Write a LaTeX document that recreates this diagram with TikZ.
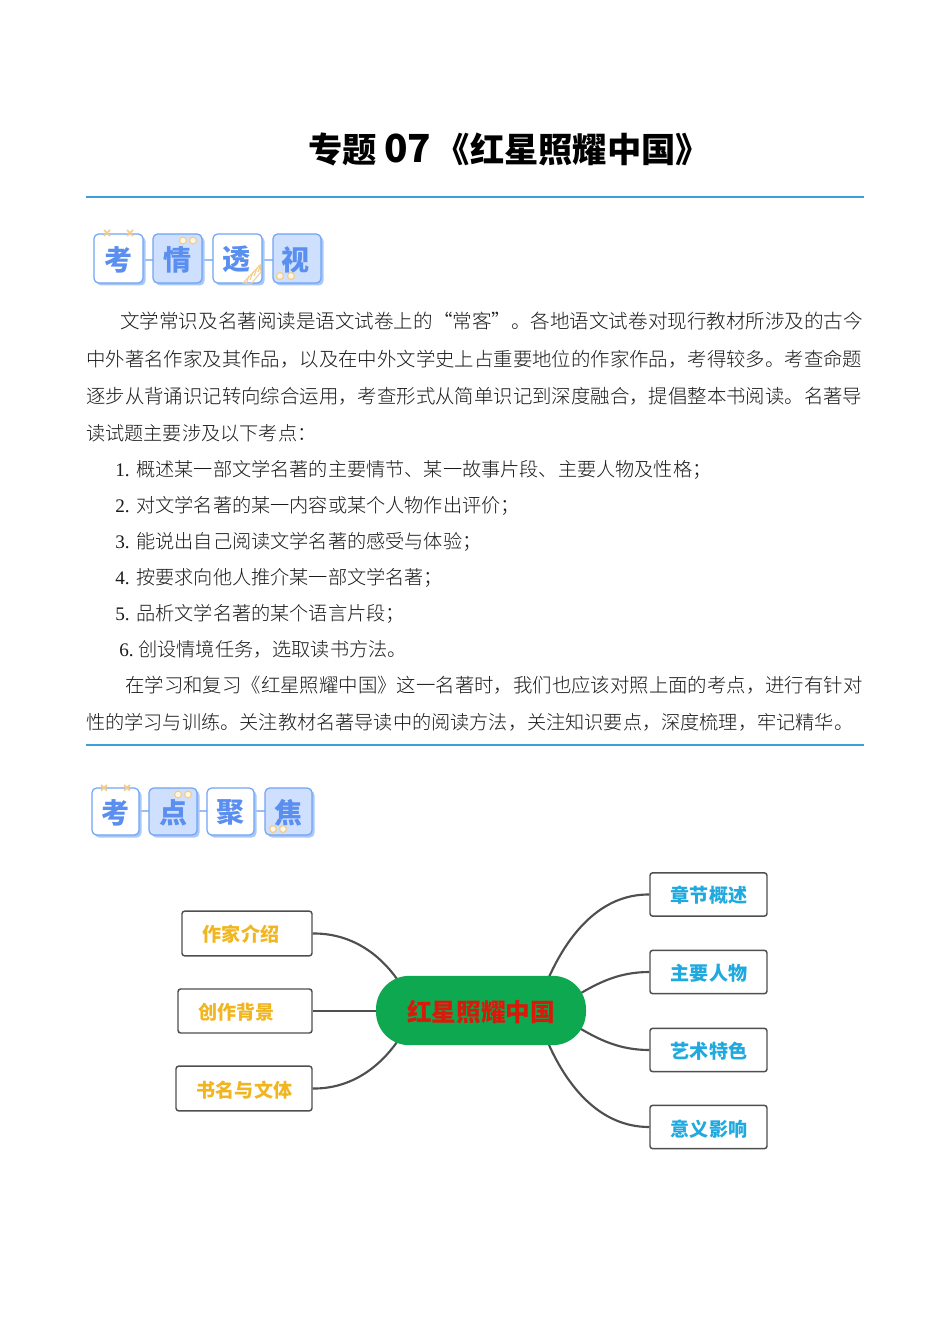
\documentclass[tikz,border=0pt]{standalone}
\usepackage{fontspec}
\setmainfont{Liberation Serif}
\newfontfamily\cjk{Noto Sans CJK SC}
\newfontfamily\cjklight{Noto Sans CJK SC Light}
\usetikzlibrary{calc}
\definecolor{rulec}{HTML}{3E9FD6}
\definecolor{tile}{HTML}{6FA3F5}
\definecolor{tilefill}{HTML}{CFE0FF}
\definecolor{tileshadow}{HTML}{A9C8FA}
\definecolor{tiletext}{HTML}{5B8FEF}
\definecolor{deco}{HTML}{F3CC8C}
\definecolor{dotfill}{HTML}{FFF6E4}
\definecolor{edge}{HTML}{4F4F4F}
\definecolor{warm}{HTML}{F1B51F}
\definecolor{cool}{HTML}{1FA9DF}
\definecolor{pillc}{HTML}{0DA84F}
\definecolor{pillt}{HTML}{D91A0B}
\definecolor{bodyc}{HTML}{1A1A1A}
\tikzset{
  x=0.75pt,y=-0.75pt,
  bodyline/.style={anchor=base west,inner sep=0pt,text=bodyc,font=\fontsize{14.55}{16}\selectfont\cjklight},
  bodyshort/.style={bodyline,font=\fontsize{14.38}{16}\selectfont\cjklight},
  rulel/.style={draw=rulec,line width=1.9pt},
  tileA/.style={draw=tile,line width=0.9pt,rounded corners=3.5pt,fill=white},
  tileB/.style={draw=tile,line width=0.9pt,rounded corners=3.5pt,fill=tilefill},
  tileS/.style={fill=tileshadow,rounded corners=3.5pt},
  tilelink/.style={draw=tile!70,line width=1.5pt},
  tilechar/.style={inner sep=0pt,yshift=-0.75pt,text=tiletext,font=\fontsize{21}{24}\selectfont\cjk\bfseries},
  xmark/.style={draw=deco,line width=1.3pt},
  dot/.style={draw=deco,line width=0.9pt,fill=dotfill,circle,inner sep=0pt,minimum size=5.2pt},
  mapbox/.style={draw=edge,line width=1.1pt,rounded corners=2pt,fill=white},
  maptext/.style={inner sep=0pt,font=\fontsize{14.3}{16}\selectfont\cjk\bfseries},
  link/.style={draw=edge,line width=1.6pt},
}
\newcommand{\tilepair}[6]{% name, x1, y1, x2, y2, style
  \fill[tileS] (#2+2.5,#3+2.5) rectangle (#4+2.5,#5+2.5);
  \draw[#6] (#2,#3) rectangle (#4,#5);
  \coordinate (#1) at ({(#2+#4)/2},{(#3+#5)/2});
}
\begin{document}
\begin{tikzpicture}
\useasboundingbox (0,0) rectangle (950,1344);
\fill[white] (0,0) rectangle (950,1344);

% title
\node[anchor=base west,inner sep=0pt,font=\fontsize{25.7}{28}\selectfont\cjk\bfseries,text=black] (title) at (308,162.5)
  {专题\hspace{5.5pt}{\fontsize{29}{30}\selectfont 07}\hspace{3.5pt}《红星照耀中国》};
\draw[rulel] (86,197) -- (864,197);

% heading tiles, row 1
\draw[tilelink] (143,260) -- (273,260);
\tilepair{t1}{94}{234}{143}{283}{tileA}
\tilepair{t2}{153}{234}{202}{283}{tileB}
\tilepair{t3}{213}{234}{262}{283}{tileA}
\tilepair{t4}{273}{234}{321}{283}{tileB}
\node[tilechar] at (t1) {考};
\node[tilechar] at (t2) {情};
\node[tilechar,xshift=-0.75pt] at (t3) {透};
\node[tilechar,xshift=-1.2pt] at (t4) {视};
\foreach \cx in {107,130}{\draw[xmark] (\cx-3,230) -- (\cx+3,236) (\cx-3,236) -- (\cx+3,230);}
\node[dot] at (183,240.5) {};
\node[dot] at (193,240.5) {};
\node[dot] at (280,276) {};
\node[dot] at (291,276) {};
\draw[deco,line width=0.7pt] (243,283) -- (260,265) -- (261,272) -- (251,284) -- cycle;
\foreach \o in {0,4,8,12}{\draw[deco,line width=0.8pt] (246+\o,284-\o) -- (249+\o,276-\o);}

% body
\node[bodyline,font=\fontsize{14.66}{16}\selectfont\cjklight] (l1) at (120,328.5) {文学常识及名著阅读是语文试卷上的“常客”。各地语文试卷对现行教材所涉及的古今};
\node[bodyline] (l2) at (86,366) {中外著名作家及其作品，以及在中外文学史上占重要地位的作家作品，考得较多。考查命题};
\node[bodyline] (l3) at (86,403) {逐步从背诵识记转向综合运用，考查形式从简单识记到深度融合，提倡整本书阅读。名著导};
\node[bodyshort] (l4) at (86,440) {读试题主要涉及以下考点：};
\node[bodyshort] (l5) at (115,476) {{\rmfamily 1.}\hspace{5pt}概述某一部文学名著的主要情节、某一故事片段、主要人物及性格；};
\node[bodyshort] (l6) at (115,512) {{\rmfamily 2.}\hspace{5pt}对文学名著的某一内容或某个人物作出评价；};
\node[bodyshort] (l7) at (115,548) {{\rmfamily 3.}\hspace{5pt}能说出自己阅读文学名著的感受与体验；};
\node[bodyshort] (l8) at (115,584) {{\rmfamily 4.}\hspace{5pt}按要求向他人推介某一部文学名著；};
\node[bodyshort] (l9) at (115,620) {{\rmfamily 5.}\hspace{5pt}品析文学名著的某个语言片段；};
\node[bodyshort] (l10) at (119,656) {{\rmfamily 6.}\hspace{3.5pt}创设情境任务，选取读书方法。};
\node[bodyline] (l11) at (125,692) {在学习和复习《红星照耀中国》这一名著时，我们也应该对照上面的考点，进行有针对};
\node[bodyshort] (l12) at (86,729) {性的学习与训练。关注教材名著导读中的阅读方法，关注知识要点，深度梳理，牢记精华。};
\draw[rulel] (86,745) -- (864,745);

% heading tiles, row 2
\draw[tilelink] (139,811) -- (265,811);
\tilepair{u1}{92}{788}{139}{835}{tileA}
\tilepair{u2}{149}{788}{197}{835}{tileB}
\tilepair{u3}{207}{788}{254}{835}{tileA}
\tilepair{u4}{265}{788}{312}{835}{tileB}
\node[tilechar] at (u1) {考};
\node[tilechar] at (u2) {点};
\node[tilechar] at (u3) {聚};
\node[tilechar] at (u4) {焦};
\foreach \cx in {104,127}{\draw[xmark] (\cx-3,785) -- (\cx+3,790.5) (\cx-3,790.5) -- (\cx+3,785);}
\node[dot] at (178,794.5) {};
\node[dot] at (188,794.5) {};
\node[dot] at (273,829) {};
\node[dot] at (283,829) {};

% mind map
\coordinate (pA) at (397,979);
\coordinate (pB) at (376,1011);
\coordinate (pC) at (397,1042);
\coordinate (pD) at (549,977);
\coordinate (pE) at (581,993);
\coordinate (pF) at (581,1029);
\coordinate (pG) at (549,1045);

\node[mapbox,minimum width=97.5pt,minimum height=33.5pt,inner sep=0pt] (a) at (247,933.5) {};
\node[mapbox,minimum width=100.5pt,minimum height=33pt,inner sep=0pt] (b) at (245,1011) {};
\node[mapbox,minimum width=102pt,minimum height=33.5pt,inner sep=0pt] (c) at (244,1088.5) {};
\node[mapbox,minimum width=87.75pt,minimum height=32.5pt,inner sep=0pt] (d) at (708.5,894.5) {};
\node[mapbox,minimum width=87.75pt,minimum height=32.5pt,inner sep=0pt] (e) at (708.5,972) {};
\node[mapbox,minimum width=87.75pt,minimum height=32.5pt,inner sep=0pt] (f) at (708.5,1050) {};
\node[mapbox,minimum width=87.75pt,minimum height=32.5pt,inner sep=0pt] (g) at (708.5,1127) {};

\draw[link] (a.east) .. controls (352,933) and (380,955) .. (pA);
\draw[link] (b.east) -- (pB);
\draw[link] (c.east) .. controls (352,1089) and (380,1066) .. (pC);
\draw[link] (d.west) .. controls (600,894) and (568,935) .. (pD);
\draw[link] (e.west) .. controls (620,972) and (600,982) .. (pE);
\draw[link] (f.west) .. controls (620,1050) and (600,1040) .. (pF);
\draw[link] (g.west) .. controls (600,1127) and (568,1087) .. (pG);

\node[fill=pillc,rounded corners=25pt,minimum width=157.5pt,minimum height=52pt,inner sep=0pt] (hub) at (481,1010.5) {};
\node[inner sep=0pt,text=pillt,font=\fontsize{18.5}{20}\selectfont\cjk\bfseries] (hubt) at (481,1012) {红星照耀中国};

\node[maptext,text=warm] at (241,934) {作家介绍};
\node[maptext,text=warm] at (236.5,1012) {创作背景};
\node[maptext,text=warm] at (244.5,1090) {书名与文体};
\node[maptext,text=cool] at (709,895.5) {章节概述};
\node[maptext,text=cool] at (709,973.5) {主要人物};
\node[maptext,text=cool] at (709,1051) {艺术特色};
\node[maptext,text=cool] at (709,1129) {意义影响};
\end{tikzpicture}
\end{document}
